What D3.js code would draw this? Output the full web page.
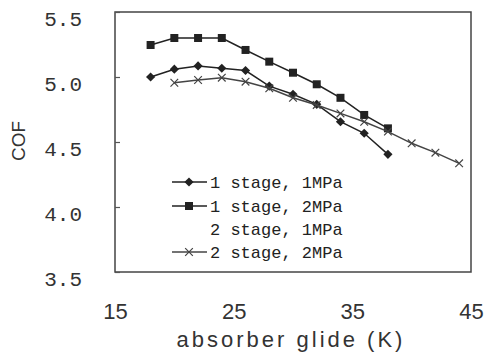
<!DOCTYPE html>
<html>
<head>
<meta charset="utf-8">
<script src="https://cdn.jsdelivr.net/npm/d3@7"></script>
<style>
  html, body { margin: 0; padding: 0; background: #fff; }
  svg { display: block; }
</style>
</head>
<body>
<svg id="chart" width="484" height="355"></svg>
<script>
// ---- data ----
const seriesNames = ["1 stage, 1MPa", "1 stage, 2MPa", "2 stage, 1MPa", "2 stage, 2MPa"];

const x1s1 = [18, 20, 22, 24, 26, 28, 30, 32, 34, 36, 38];
const y1s1 = [5.00, 5.06, 5.085, 5.067, 5.05, 4.93, 4.867, 4.79, 4.656, 4.567, 4.405];

const x1s2 = [18, 20, 22, 24, 26, 28, 30, 32, 34, 36, 38];
const y1s2 = [5.246, 5.30, 5.30, 5.30, 5.208, 5.118, 5.033, 4.944, 4.84, 4.708, 4.605];

const x2s1 = [];
const y2s1 = [];

const x2s2 = [20, 22, 24, 26, 28, 30, 32, 34, 36, 38, 40, 42, 44];
const y2s2 = [4.956, 4.977, 4.995, 4.964, 4.913, 4.84, 4.785, 4.72, 4.656, 4.58, 4.49, 4.418, 4.336];

const xTicks = [15, 25, 35, 45];
const yTicks = [3.5, 4.0, 4.5, 5.0, 5.5];
const xTitle = "absorber glide (K)";
const yTitle = "COF";

// ---- layout ----
const svg = d3.select("#chart");
const L = 115, T = 12, R = 471, B = 272;
const x = d3.scaleLinear().domain([15, 45]).range([L, R]);
const y = d3.scaleLinear().domain([3.5, 5.5]).range([B, T]);
const ink = "#222";

const series = [
  { name: seriesNames[0], xs: x1s1, ys: y1s1, sym: "diamond" },
  { name: seriesNames[1], xs: x1s2, ys: y1s2, sym: "square" },
  { name: seriesNames[2], xs: x2s1, ys: y2s1, sym: "none" },
  { name: seriesNames[3], xs: x2s2, ys: y2s2, sym: "x" }
];

function drawSymbol(g, type, cx, cy) {
  if (type === "diamond") {
    g.append("path").attr("d", d3.symbol(d3.symbolSquare, 42)())
      .attr("transform", `translate(${cx},${cy}) rotate(45)`).attr("fill", ink);
  } else if (type === "square") {
    g.append("path").attr("d", d3.symbol(d3.symbolSquare, 64)())
      .attr("transform", `translate(${cx},${cy})`).attr("fill", ink);
  } else if (type === "x") {
    g.append("path").attr("d", d3.symbol(d3.symbolX, 40)())
      .attr("transform", `translate(${cx},${cy})`)
      .attr("fill", "none").attr("stroke", "#444").attr("stroke-width", 1.2);
  }
}

// frame
svg.append("rect").attr("x", L).attr("y", T).attr("width", R - L).attr("height", B - T)
  .attr("fill", "none").attr("stroke", "#444").attr("stroke-width", 1.5);

// y axis
const yAxis = svg.append("g").attr("transform", `translate(${L},0)`)
  .call(d3.axisLeft(y).tickValues(yTicks).tickFormat(d3.format(".1f"))
    .tickSizeInner(-5).tickSizeOuter(0).tickPadding(33));
yAxis.select(".domain").remove();
yAxis.selectAll("line").attr("stroke", "#555").attr("stroke-width", 1.2);
yAxis.selectAll("text").attr("font-family", "Liberation Mono, DejaVu Sans Mono, monospace")
  .attr("font-size", 21).attr("fill", "#333").attr("dy", "0.62em");

// x axis
const xAxis = svg.append("g").attr("transform", `translate(0,${B})`)
  .call(d3.axisBottom(x).tickValues(xTicks).tickFormat(d3.format("d"))
    .tickSize(0).tickPadding(31));
xAxis.select(".domain").remove();
xAxis.selectAll("text").attr("font-family", "Liberation Sans, Arial, sans-serif")
  .attr("font-size", 22).attr("fill", "#333");

// titles
svg.append("text").attr("x", 291).attr("y", 347).attr("text-anchor", "middle")
  .attr("font-family", "Liberation Sans, Arial, sans-serif").attr("font-size", 22)
  .attr("letter-spacing", 3).attr("fill", "#333").text(xTitle);

svg.append("text").attr("transform", "translate(20,141) rotate(-90)")
  .attr("text-anchor", "middle").attr("dominant-baseline", "middle")
  .attr("font-family", "Liberation Sans, Arial, sans-serif").attr("font-size", 19)
  .attr("fill", "#333").text(yTitle);

// series
const line = d3.line().x(d => x(d[0])).y(d => y(d[1]));
series.forEach(s => {
  const pts = s.xs.map((v, i) => [v, s.ys[i]]);
  if (!pts.length) return;
  const g = svg.append("g");
  g.append("path").datum(pts).attr("d", line).attr("fill", "none")
    .attr("stroke", s.sym === "x" ? "#444" : ink).attr("stroke-width", 1.5);
  pts.forEach(p => drawSymbol(g, s.sym, x(p[0]), y(p[1])));
});

// legend
const legY = [182, 206, 229, 252];
series.forEach((s, i) => {
  const g = svg.append("g");
  const cy = legY[i];
  if (s.sym !== "none") {
    g.append("line").attr("x1", 172).attr("x2", 207).attr("y1", cy).attr("y2", cy)
      .attr("stroke", s.sym === "x" ? "#444" : ink).attr("stroke-width", 1.5);
    drawSymbol(g, s.sym, 189, cy);
  }
  g.append("text").attr("x", 210).attr("y", cy).attr("dy", "0.36em")
    .attr("font-family", "Liberation Mono, DejaVu Sans Mono, monospace")
    .attr("font-size", 17).attr("fill", "#222").text(s.name);
});
</script>
</body>
</html>
